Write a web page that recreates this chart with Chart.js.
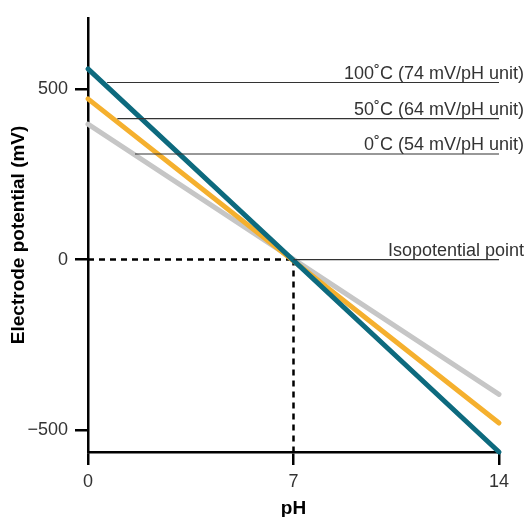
<!DOCTYPE html>
<html>
<head>
<meta charset="utf-8">
<script src="https://cdn.jsdelivr.net/npm/chart.js@4/dist/chart.umd.min.js"></script>
<style>
  html, body { margin: 0; padding: 0; background: #fff; }
  canvas { display: block; }
</style>
</head>
<body>
<canvas id="chart" width="527" height="517"></canvas>
<script>
// pH range covered by the three electrode lines
const phEnds = [0, 14];

// electrode potential (mV) at pH 0 and pH 14
const line100C = [560, -565];
const line50C = [472, -480];
const line0C = [398, -396];

// label leader lines: where they start (pH) and their level (mV)
const leaderStart = [0.65, 1.0, 1.6, 7];
const leaderLevel = [520, 414, 310, 0];
const leaderText = ['100˚C (74 mV/pH unit)', '50˚C (64 mV/pH unit)', '0˚C (54 mV/pH unit)', 'Isopotential point'];

// isopotential point
const isoPh = 7;
const isoMv = 0;

const xTicks = [0, 7, 14];
const yTicks = [-500, 0, 500];
const yMin = -565;
const yMax = 710;

const teal = '#0d6a7e';
const orange = '#f5b02e';
const grey = '#c6c6c6';
const ink = '#333333';

function pts(xs, ys) {
  return xs.map((x, i) => ({x: x, y: ys[i]}));
}

var datasets = [];

// thin leader lines sit on top of everything
leaderStart.forEach((s, i) => {
  datasets.push({
    data: pts([s, 14], [leaderLevel[i], leaderLevel[i]]),
    borderColor: ink,
    borderWidth: 1.2,
    pointRadius: 0,
    order: 0,
    label: leaderText[i]
  });
});

datasets.push({ data: pts(phEnds, line100C), borderColor: teal, borderWidth: 5, borderCapStyle: 'round', pointRadius: 0, order: 1 });
datasets.push({ data: pts(phEnds, line50C), borderColor: orange, borderWidth: 5, borderCapStyle: 'round', pointRadius: 0, order: 2 });
datasets.push({ data: pts(phEnds, line0C), borderColor: grey, borderWidth: 5, borderCapStyle: 'round', pointRadius: 0, order: 3 });

// dashed guides to the isopotential point
datasets.push({ data: pts([0, isoPh], [isoMv, isoMv]), borderColor: '#000', borderWidth: 2.5, borderDash: [6, 5], pointRadius: 0, order: 4 });
datasets.push({ data: pts([isoPh, isoPh], [isoMv, yMin]), borderColor: '#000', borderWidth: 2.5, borderDash: [6, 5], pointRadius: 0, order: 4 });

const leaderLabels = {
  id: 'leaderLabels',
  afterDatasetsDraw(chart) {
    const ctx = chart.ctx;
    const xs = chart.scales.x, ys = chart.scales.y;
    ctx.save();
    ctx.font = '18px "Liberation Sans", Arial, sans-serif';
    ctx.fillStyle = ink;
    ctx.textAlign = 'right';
    ctx.textBaseline = 'alphabetic';
    leaderText.forEach((t, i) => {
      const x = xs.getPixelForValue(14) + 25;
      const y = ys.getPixelForValue(leaderLevel[i]) - 4;
      ctx.fillText(t, x, y);
    });
    ctx.restore();
  }
};

const tickFont = { family: '"Liberation Sans", Arial, sans-serif', size: 18 };
const titleFont = { family: '"Liberation Sans", Arial, sans-serif', size: 19, weight: 'bold', lineHeight: 1 };

new Chart(document.getElementById('chart'), {
  type: 'line',
  data: { datasets: datasets },
  options: {
    responsive: false,
    animation: false,
    devicePixelRatio: 1,
    layout: { padding: { top: 15, right: 28, left: 0, bottom: 0 } },
    elements: { line: { tension: 0 } },
    datasets: { line: { clip: false } },
    plugins: { legend: { display: false }, tooltip: { enabled: false } },
    scales: {
      x: {
        type: 'linear',
        min: 0,
        max: 14,
        afterBuildTicks: (s) => { s.ticks = xTicks.map(v => ({value: v})); },
        afterFit: (s) => { s.height = 65; },
        grid: { drawOnChartArea: false, drawTicks: true, tickLength: 13, color: '#000', lineWidth: 2.5 },
        border: { display: true, color: '#000', width: 2.5 },
        ticks: { color: ink, font: tickFont, padding: 6, maxRotation: 0 },
        title: { display: true, text: 'pH', color: '#000', font: titleFont, padding: { top: 0, bottom: -1 } }
      },
      y: {
        type: 'linear',
        min: yMin,
        max: yMax,
        afterBuildTicks: (s) => { s.ticks = yTicks.map(v => ({value: v})); },
        afterFit: (s) => { s.width = 88; },
        grid: { drawOnChartArea: false, drawTicks: true, tickLength: 13, color: '#000', lineWidth: 2.5 },
        border: { display: true, color: '#000', width: 2.5 },
        ticks: { color: ink, font: tickFont, padding: 7, callback: (v) => v < 0 ? '\u2212' + Math.abs(v) : String(v) },
        title: { display: true, text: 'Electrode potential (mV)', color: '#000', font: titleFont, padding: { top: 9.5, bottom: 0 } }
      }
    }
  },
  plugins: [leaderLabels]
});
</script>
</body>
</html>
